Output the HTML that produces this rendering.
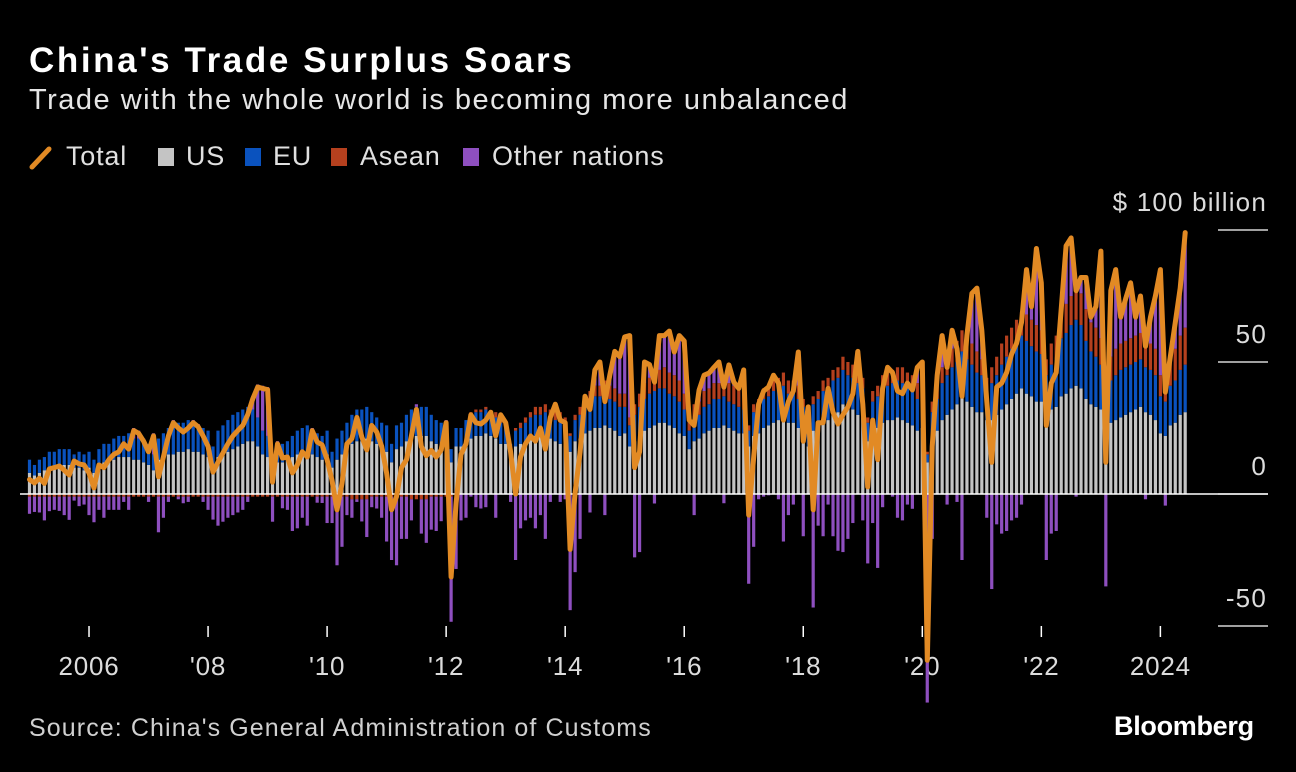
<!DOCTYPE html>
<html><head><meta charset="utf-8">
<style>
html,body{margin:0;padding:0;background:#000;}
body{width:1296px;height:772px;position:relative;overflow:hidden;font-family:"Liberation Sans",sans-serif;color:#e6e6e6;}
.t{position:absolute;white-space:nowrap;}
#title{left:29px;top:41px;font-size:35px;font-weight:bold;color:#fff;letter-spacing:2.6px;}
#sub{left:29px;top:84px;font-size:29px;color:#e6e6e6;letter-spacing:1.5px;}
.leg{position:absolute;top:141px;font-size:27px;color:#e0e0e0;letter-spacing:0.8px;}
.sw{position:absolute;top:148px;width:16px;height:18px;}
#src{left:29px;top:714px;font-size:25px;color:#d0d0d0;letter-spacing:1.1px;}
#bb{left:1114px;top:711px;font-size:27px;font-weight:bold;color:#fff;letter-spacing:-0.3px;}
</style></head><body>
<div class="t" id="title">China's Trade Surplus Soars</div>
<div class="t" id="sub">Trade with the whole world is becoming more unbalanced</div>
<svg style="position:absolute;left:28px;top:145px" width="26" height="26"><line x1="4" y1="22" x2="21" y2="4" stroke="#e28a24" stroke-width="5" stroke-linecap="round"/></svg>
<div class="leg" style="left:66px">Total</div>
<div class="sw" style="left:158px;background:#c4c4c4"></div>
<div class="leg" style="left:186px">US</div>
<div class="sw" style="left:245px;background:#0a52be"></div>
<div class="leg" style="left:273px">EU</div>
<div class="sw" style="left:331px;background:#b5401e"></div>
<div class="leg" style="left:360px">Asean</div>
<div class="sw" style="left:463px;background:#8e4fbf"></div>
<div class="leg" style="left:492px">Other nations</div>
<svg id="chart" style="position:absolute;left:0;top:0" width="1296" height="772"></svg>
<div class="t" id="src">Source: China's General Administration of Customs</div>
<div class="t" id="bb">Bloomberg</div>
<script>
const yTicks=[100,50,0,-50];
const yTickLabels=["$ 100 billion","50","0","-50"];
const xTickMonths=[12,36,60,84,108,132,156,180,204,228];
const xTickLabels=["2006","'08","'10","'12","'14","'16","'18","'20","'22","2024"];
const total=[5.5,4.2,6,4,9.5,10,10.6,9,7.2,12.5,11.4,11,
8,2.3,11,10,13,15,16,19,17,24,23,20,
16,22,6.5,14,22,27,25,23.5,25,27,25.5,22,
18,8.3,12,15.5,19,22,24,26,30,36,40.5,40,
39.5,4.5,19,13.6,14,8,11,16,14,24,19.7,18.6,
13,5,-6,4,19,21,29,21.6,16.7,26,23.5,18,
8,-6,-1,10,13,22,32,18,14.5,16.5,14,16.7,
27,-31.4,-3.4,15,19,30,27,26.5,28,31,22,30,
27,16,0,14,19,22,20,25,17,29,34,28,
27,-21,0.4,16,37,32,47,50,35,45,54,52,
59.5,60,10,16,50,49,42.4,60,60,61.7,53.8,60,
58,28,26,39.4,45,45.8,48,50,40.5,48.9,42.4,40,
47,-8,14,34,39,40.5,45,42,28,35,39,53.8,
20,33,-6,27,27,40,31,26.5,30,33,38,54,
34,2.7,28,13,40,48,46,39,38,42,39.4,48,
50,-63,18,45,60,48,62,55,37,60,76,78,
62,35,12,40.5,42,46,53,57,65,85,71,93,
80,26,42,46,70,94,97,77,82,82,67,71,
92,12,77,85,67,74,80,67,75,56,67,75,
85,38.6,52,65,78,99];
const us=[8,7,8,9,10,10,11,11,11,10,10,9,
10,8,11,12,12,13,14,14,14,13,13,12,
11,9,13,14,15,15,16,16,17,16,16,15,
14,11,14,15,16,17,18,19,20,20,18,15,
14,10,12,12,13,14,15,16,16,15,14,13,
15,10,13,15,17,19,20,20,21,20,19,17,
16,12,17,18,20,21,22,22,22,20,19,18,
17,12,18,18,20,21,22,22,23,22,21,19,
19,14,18,19,20,21,22,22,22,21,20,19,
19,16,20,21,23,24,25,25,26,25,24,22,
23,18,20,22,24,25,26,27,27,26,25,23,
22,17,20,21,23,24,25,25,26,25,24,23,
23,18,22,23,25,26,27,28,29,27,27,25,
23,18,24,25,27,28,30,31,34,33,32,30,
29,20,24,25,27,28,28,29,28,27,26,24,
25,12,22,24,28,30,32,34,37,35,33,31,
31,28,28,30,32,34,36,38,40,38,37,35,
35,30,32,33,37,38,40,41,40,36,34,33,
32,25,27,28,29,30,31,32,33,31,30,28,
23,22,26,27,30,31];
const eu=[5,4,5,5,6,6,6,6,6,5,6,6,
6,5,6,7,7,8,8,8,9,8,8,8,
8,6,8,9,10,10,11,11,11,10,10,10,
10,7,10,11,12,13,13,13,13,12,11,9,
8,5,6,7,7,8,9,9,10,9,9,9,
9,6,8,9,10,11,12,12,12,11,10,10,
10,7,9,9,10,11,11,11,11,10,9,9,
8,5,7,7,8,9,9,9,9,8,8,8,
7,5,6,6,7,8,8,8,9,8,8,8,
8,6,8,9,10,11,12,12,12,11,11,11,
10,8,10,11,12,13,13,13,13,12,12,12,
10,7,9,9,10,10,11,11,11,10,10,10,
9,6,9,10,11,11,12,12,12,11,11,11,
10,6,10,11,12,12,13,13,13,12,12,12,
11,7,11,12,13,13,14,14,14,13,13,12,
10,3,9,12,14,15,16,16,17,16,16,15,
14,12,14,15,17,18,19,19,20,20,19,19,
18,15,17,18,22,23,24,25,24,22,20,19,
17,14,16,17,18,18,18,18,18,17,17,17,
14,13,15,16,17,18];
const asean=[-1,-1,-1,-1,-1,-1,-1,-1,-1,-1,-1,-1,
-1,-1,-1,-1,-1,-1,-1,-1,-1,-1,-1,-1,
-1,-1,-1,-1,-1,-1,-1,-1,-1,-1,-1,-1,
-1,-1,-1,-1,-1,-1,-1,-1,-1,-1,-1,-1,
-1,-1,-1,-1,-1,-1,-1,-1,-1,-1,-1,-1,
-1,-1,-1,-1,-1,-2,-2,-2,-2,-1,-1,-1,
-1,-1,-1,-1,-1,-2,-2,-2,-2,-1,-1,-1,
-1,-1,0,0,0,1,1,1,1,1,2,2,
1,0,1,2,2,2,3,3,3,3,4,4,
2,1,2,3,3,4,4,4,5,5,5,5,
5,3,4,5,6,6,7,7,8,8,8,8,
6,3,5,5,6,6,6,6,7,7,7,7,
5,2,3,3,4,4,4,4,5,5,5,5,
3,1,3,3,4,4,4,4,5,5,5,5,
4,2,4,4,5,5,5,5,6,6,6,6,
4,1,4,5,6,7,7,8,8,8,8,8,
6,4,6,7,8,8,8,9,9,10,10,10,
9,6,8,9,10,11,11,12,12,12,11,11,
10,8,9,10,10,10,10,10,10,10,10,10,
8,8,10,12,13,14];

const NS='http://www.w3.org/2000/svg';
const svg=document.getElementById('chart');
function y(v){return 494-v*2.64;}
function x(m){return 29.5+m*4.96;}
function mk(tag,attrs,parent){const e=document.createElementNS(NS,tag);for(const k in attrs)e.setAttribute(k,attrs[k]);(parent||svg).appendChild(e);return e;}

yTicks.forEach((v,i)=>{
  const ln=mk('line',{x1:1218,x2:1268,y1:y(v),y2:y(v),stroke:'#ffffff','stroke-width':1.2});
  
  
  const t=mk('text',{x:1267,y:y(v)-19,'text-anchor':'end','font-size':26,fill:'#dcdcdc','font-family':'Liberation Sans, sans-serif','letter-spacing':'1.2'});
  t.textContent=yTickLabels[i];
  
  
});
xTickMonths.forEach((m,i)=>{
  const ln=mk('line',{x1:x(m),x2:x(m),y1:626,y2:637,stroke:'#ffffff','stroke-width':1.5});
  
  
  const t=mk('text',{x:x(m),y:675,'text-anchor':'middle','font-size':26,fill:'#dcdcdc','font-family':'Liberation Sans, sans-serif','letter-spacing':'0.8'});
  t.textContent=xTickLabels[i];
  
  
});
const colors={us:'#c4c4c4',eu:'#0a52be',asean:'#b5401e',other:'#8e4fbf'};
const g=mk('g',{});


for(let m=0;m<total.length;m++){
  const other=total[m]-us[m]-eu[m]-asean[m];
  const parts=[['us',us[m]],['eu',eu[m]],['asean',asean[m]],['other',other]];
  let pos=0,neg=0;
  parts.forEach(([k,v])=>{
    if(v===0)return;
    let y0,y1;
    if(v>0){y0=pos;y1=pos+v;pos=y1;}else{y0=neg;y1=neg+v;neg=y1;}
    const top=Math.min(y(y0),y(y1)),h=Math.abs(y(y1)-y(y0));
    const r=mk('rect',{x:x(m)-1.6,y:top,width:3.2,height:h,fill:colors[k]},g);
    
    
  });
}
const z=mk('line',{x1:20,x2:1268,y1:y(0),y2:y(0),stroke:'#ffffff','stroke-width':1.5});


const pts=total.map((v,m)=>x(m).toFixed(1)+','+y(v).toFixed(1)).join(' ');
const pl=mk('polyline',{points:pts,fill:'none',stroke:'#e28a24','stroke-width':5,'stroke-linejoin':'round','stroke-linecap':'round'});


</script>
</body></html>
